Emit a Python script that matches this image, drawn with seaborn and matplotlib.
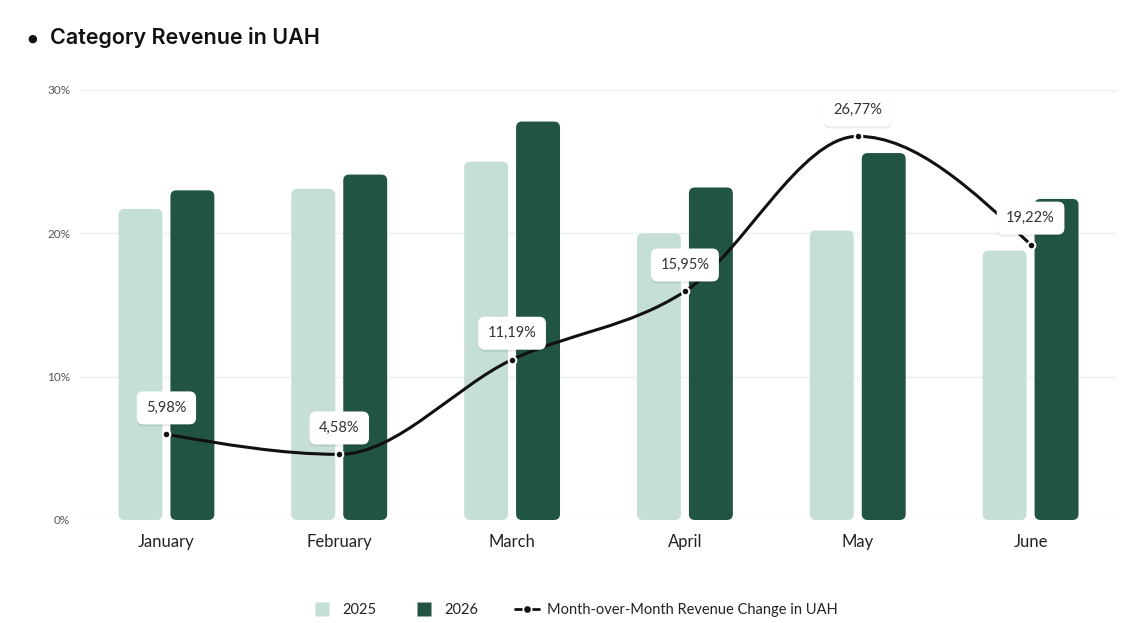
import numpy as np
import pandas as pd
import matplotlib
matplotlib.use('Agg')
import matplotlib.pyplot as plt
import seaborn as sns
from matplotlib.patches import FancyBboxPatch, PathPatch
from matplotlib.path import Path
from matplotlib.lines import Line2D
import matplotlib.patheffects as pe

months = ['January', 'February', 'March', 'April', 'May', 'June']
rev_2025 = [21.7, 23.1, 25.0, 20.0, 20.2, 18.8]
rev_2026 = [23.0, 24.1, 27.8, 23.2, 25.6, 22.4]
mom_change = [5.98, 4.58, 11.19, 15.95, 26.77, 19.22]
y_ticks = [0, 10, 20, 30]

light_green = '#C5DFD6'
dark_green = '#215443'
line_col = '#111111'

sns.set_theme(style='white')
plt.rcParams['font.family'] = ['Lato', 'DejaVu Sans']

df = pd.DataFrame({
    'month': months * 2,
    'year': ['2025'] * 6 + ['2026'] * 6,
    'value': rev_2025 + rev_2026,
})

fig = plt.figure(figsize=(11.48, 6.23), dpi=100)
ax = fig.add_axes([80 / 1148, 1 - 520 / 623, (1117 - 80) / 1148, 430 / 623])

sns.barplot(data=df, x='month', y='value', hue='year', hue_order=['2025', '2026'],
            palette=[light_green, dark_green], saturation=1, width=0.601, gap=0.154,
            legend=False, ax=ax, zorder=2)

ax.set_xlim(-0.5, 5.5)
ax.set_ylim(0, 30)

# swap plain rectangles for rounded ones
px_x = (1117 - 80) / 6.0
px_y = 430 / 30.0
rad = 6 / px_x
for bar in list(ax.patches):
    x, y = bar.get_x(), bar.get_y()
    w, h = bar.get_width(), bar.get_height()
    fc = bar.get_facecolor()
    bar.remove()
    rb = FancyBboxPatch((x, y), w, h,
                        boxstyle=f'round,pad=0,rounding_size={rad}',
                        mutation_aspect=px_x / px_y,
                        fc=fc, ec='none', zorder=2)
    ax.add_patch(rb)

# smooth monotone curve through the points (bezier control points)
xs = np.arange(len(mom_change), dtype=float)
ys = np.array(mom_change, dtype=float)
n = len(xs)
sl = np.zeros(n)
for i in range(1, n - 1):
    h0 = xs[i] - xs[i - 1]
    h1 = xs[i + 1] - xs[i]
    s0 = (ys[i] - ys[i - 1]) / h0
    s1 = (ys[i + 1] - ys[i]) / h1
    p = (s0 * h1 + s1 * h0) / (h0 + h1)
    sl[i] = (np.sign(s0) + np.sign(s1)) * min(abs(s0), abs(s1), 0.5 * abs(p))
sl[0] = (3 * (ys[1] - ys[0]) - sl[1]) / 2
sl[-1] = (3 * (ys[-1] - ys[-2]) - sl[-2]) / 2
verts = [(xs[0], ys[0])]
codes = [Path.MOVETO]
for i in range(n - 1):
    dx = (xs[i + 1] - xs[i]) / 3
    verts += [(xs[i] + dx, ys[i] + dx * sl[i]),
              (xs[i + 1] - dx, ys[i + 1] - dx * sl[i + 1]),
              (xs[i + 1], ys[i + 1])]
    codes += [Path.CURVE4] * 3
ax.add_patch(PathPatch(Path(verts, codes), fc='none', ec=line_col, lw=2.2, zorder=3))
ax.scatter(xs, ys, s=30, color=line_col, edgecolor='white', linewidth=1.5, zorder=4)

for x, v in zip(xs, mom_change):
    ann = ax.annotate(f'{v:.2f}'.replace('.', ',') + '%', (x, v),
                      xytext=(0, 19), textcoords='offset points',
                      ha='center', va='center', fontsize=10.5, color='#333333',
                      family=['Lato', 'DejaVu Sans'], zorder=5,
                      bbox=dict(boxstyle='round,pad=0.65,rounding_size=0.45',
                                fc='white', ec='none'))
    ann.get_bbox_patch().set_path_effects([
        pe.SimplePatchShadow(offset=(0, -1.5), shadow_rgbFace='#000000', alpha=0.08),
        pe.Normal()])

ax.set_yticks(y_ticks)
ax.set_yticklabels([f'{t}%' for t in y_ticks])
ax.yaxis.grid(True, color='#E9F2EC', lw=1)
ax.set_axisbelow(True)
ax.tick_params(axis='y', length=0, pad=7, labelsize=8.5, labelcolor='#555555')
ax.tick_params(axis='x', length=0, pad=10, labelsize=12, labelcolor='#222222')
ax.set_xlabel('')
ax.set_ylabel('')
for s in ax.spines.values():
    s.set_visible(False)

fig.text(27 / 1148, 1 - 39 / 623, '\u25CF', fontsize=8, color='#111111',
         va='center', ha='left', family=['DejaVu Sans'])
fig.text(50 / 1148, 1 - 38 / 623, 'Category Revenue in UAH', fontsize=15.5,
         fontweight='semibold', color='#111111', va='center', ha='left',
         family=['Inter', 'DejaVu Sans'])

handles = [
    Line2D([], [], marker='s', ls='none', ms=10, mfc=light_green, mec='none'),
    Line2D([], [], marker='s', ls='none', ms=10, mfc=dark_green, mec='none'),
    Line2D([], [], marker='o', ls='-', lw=2, color=line_col, ms=6, mec='white', mew=1.2),
]
fig.legend(handles, ['2025', '2026', 'Month-over-Month Revenue Change in UAH'],
           loc='center', bbox_to_anchor=(0.5, 13 / 623), ncol=3, frameon=False,
           fontsize=10.5, handlelength=1.6, columnspacing=2.5, handletextpad=0.6,
           labelcolor='#222222')

fig.savefig('out.png', dpi=100)
